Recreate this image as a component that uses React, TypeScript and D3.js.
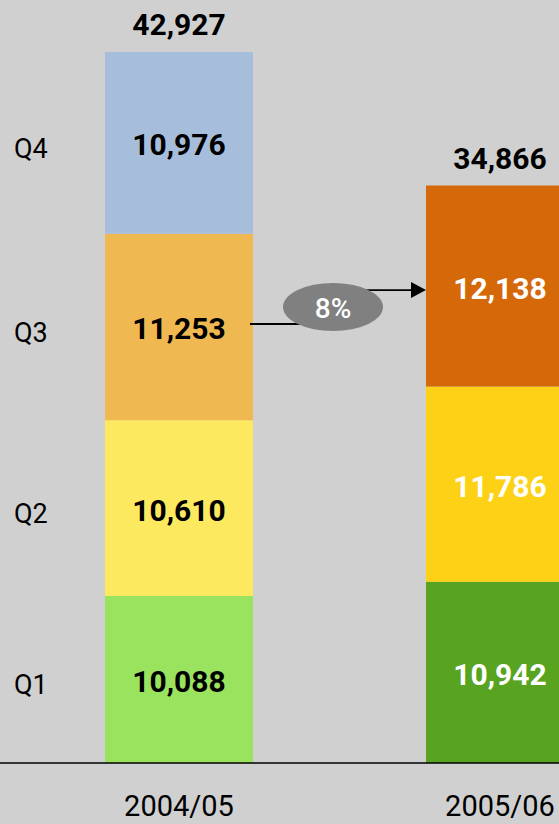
import React from "react";
import * as d3 from "d3";

const quarters = ["Q1", "Q2", "Q3", "Q4"];
const years = ["2004/05", "2005/06"];
const values2004 = [10088, 10610, 11253, 10976];
const values2005 = [10942, 11786, 12138];
const colors2004 = ["#9ae35f", "#fde95f", "#f0b850", "#a6bedb"];
const colors2005 = ["#58a420", "#fdd216", "#d5690a"];
const labelColors = ["#000000", "#ffffff"];
const growthLabel = "8%";

const W = 559;
const H = 824;
const FONT = "Roboto, 'Liberation Sans', sans-serif";

export default function App() {
  const series = [values2004, values2005];
  const colorSets = [colors2004, colors2005];
  const totals = series.map((s) => d3.sum(s));
  const y = d3.scaleLinear().domain([0, d3.max(totals)!]).range([763, 52]);
  const x = d3.scaleLinear().domain([0, 1]).range([179, 500]);
  const barW = 148;

  const stacks = series.map((s) => {
    let acc = 0;
    return s.map((v) => {
      const y0 = acc;
      acc += v;
      return { y0, y1: acc, v };
    });
  });

  const fmt = d3.format(",");
  const s0 = stacks[0];
  const s1 = stacks[1];
  const fromY = y((s0[2].y0 + s0[2].y1) / 2) - 3;
  const toY = y((s1[2].y0 + s1[2].y1) / 2) + 4;
  const fromX = x(0) + barW / 2 - 3;
  const toX = x(1) - barW / 2;
  const ex = (fromX + toX) / 2 - 5;
  const ey = (fromY + toY) / 2;

  return (
    <svg
      width={W}
      height={H}
      style={{ position: "fixed", left: 0, top: 0, display: "block" }}
      fontFamily={FONT}
    >
      <rect x={0} y={0} width={W} height={H} fill="#d0d0d0" />
      {stacks.map((st, i) => (
        <g key={i}>
          {st.map((d, j) => (
            <g key={j}>
              <rect
                x={x(i) - barW / 2}
                y={y(d.y1)}
                width={barW}
                height={y(d.y0) - y(d.y1)}
                fill={colorSets[i][j]}
              />
              <text
                x={x(i)}
                y={(y(d.y0) + y(d.y1)) / 2 + 2}
                textAnchor="middle"
                dominantBaseline="central"
                fontSize={30}
                fontWeight="bold"
                fill={labelColors[i]}
              >
                {fmt(d.v)}
              </text>
            </g>
          ))}
          <text
            x={x(i)}
            y={y(totals[i]) - 17}
            textAnchor="middle"
            fontSize={30}
            fontWeight="bold"
            fill="#000"
          >
            {fmt(totals[i])}
          </text>
          <text x={x(i)} y={816} textAnchor="middle" fontSize={29} fill="#000">
            {years[i]}
          </text>
        </g>
      ))}
      {s0.map((d, j) => (
        <text
          key={quarters[j]}
          x={14}
          y={(y(d.y0) + y(d.y1)) / 2 + 6}
          dominantBaseline="central"
          fontSize={27}
          fill="#000"
        >
          {quarters[j]}
        </text>
      ))}
      <line x1={0} x2={W} y1={y(0)} y2={y(0)} stroke="#000" strokeWidth={1.5} />
      <path
        d={`M${fromX},${fromY} H${ex} V${toY} H${toX - 14}`}
        fill="none"
        stroke="#000"
        strokeWidth={1.8}
      />
      <polygon
        points={`${toX},${toY} ${toX - 15},${toY - 8} ${toX - 15},${toY + 8}`}
        fill="#000"
      />
      <ellipse cx={ex} cy={ey} rx={50} ry={24} fill="#808080" />
      <text
        x={ex}
        y={ey + 1}
        textAnchor="middle"
        dominantBaseline="central"
        fontSize={28}
        fontWeight={500}
        fill="#fff"
      >
        {growthLabel}
      </text>
    </svg>
  );
}
